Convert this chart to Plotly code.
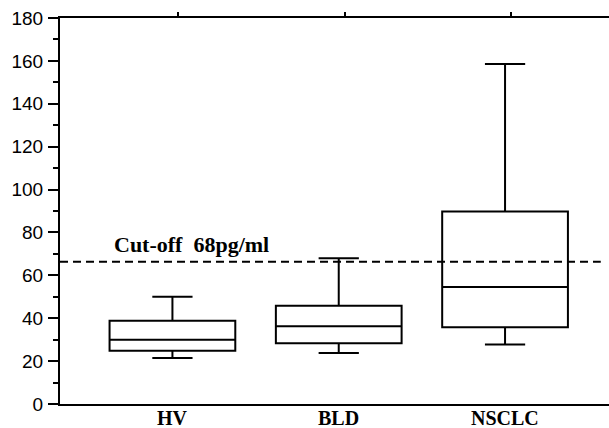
import plotly.graph_objects as go

categories = ["HV", "BLD", "NSCLC"]
lower_whisker = [21.5, 23.8, 27.8]
q1 = [24.8, 28.3, 35.8]
median = [30.0, 36.3, 54.6]
q3 = [38.8, 45.8, 89.8]
upper_whisker = [50.0, 68.0, 158.5]
cutoff_value = 66.3
cutoff_label = "Cut-off\u00a0\u00a068pg/ml"
y_ticks = list(range(0, 181, 20))

fig = go.Figure()
fig.add_trace(go.Box(
    x=categories, q1=q1, median=median, q3=q3,
    lowerfence=lower_whisker, upperfence=upper_whisker,
    fillcolor="white", line=dict(color="black", width=2),
    whiskerwidth=0.32, width=0.756, boxpoints=False, showlegend=False,
))
# invisible trace to activate the top axis with mirrored ticks
fig.add_trace(go.Scatter(x=[0], y=[0], xaxis="x2", mode="markers",
                         marker=dict(opacity=0), showlegend=False, hoverinfo="skip"))

xr = [-0.676, 2.625]
label_font = dict(family="Liberation Serif", size=20, color="black", weight="bold")
annotations = [dict(text=c, x=c, xref="x", y=0, yref="paper", xanchor="center",
                    yanchor="top", yshift=-1, showarrow=False, font=label_font)
               for c in categories]
annotations.append(dict(text=cutoff_label, xref="paper", yref="y", x=0.094, y=cutoff_value + 1.5,
                        xanchor="left", yanchor="bottom", showarrow=False,
                        font=dict(family="Liberation Serif", size=22, color="black", weight="bold")))

fig.update_layout(
    width=609, height=428,
    margin=dict(l=60, r=0, t=18, b=24),
    paper_bgcolor="white", plot_bgcolor="white",
    xaxis=dict(
        type="category", range=xr, categoryorder="array", categoryarray=categories,
        showline=True, linecolor="black", linewidth=2, ticks="", showgrid=False,
        zeroline=False, showticklabels=False, automargin=False,
    ),
    xaxis2=dict(
        overlaying="x", side="top", range=xr,
        tickvals=[0.035, 1.035, 2.035], showticklabels=False,
        ticks="outside", ticklen=4, tickwidth=2, tickcolor="black",
        showline=True, linecolor="black", linewidth=2, showgrid=False, zeroline=False,
        automargin=False,
    ),
    yaxis=dict(
        range=[0, 180], tickvals=y_ticks, showline=True, linecolor="black", linewidth=2,
        ticks="outside", ticklen=10, tickwidth=2, tickcolor="black",
        minor=dict(dtick=10, ticks="outside", ticklen=5, tickwidth=2, tickcolor="black"),
        showgrid=False, zeroline=False, automargin=False,
        tickfont=dict(family="Liberation Sans", size=19, color="black"),
        ticklabelstandoff=1,
    ),
    shapes=[dict(type="line", xref="paper", yref="y", x0=0, x1=0.985,
                 y0=cutoff_value, y1=cutoff_value,
                 line=dict(color="black", width=2, dash="8px,5px"))],
    annotations=annotations,
)
fig.write_html("out.html", config={"displayModeBar": False},
               post_script="document.body.style.margin='0';document.body.style.overflow='hidden';")
